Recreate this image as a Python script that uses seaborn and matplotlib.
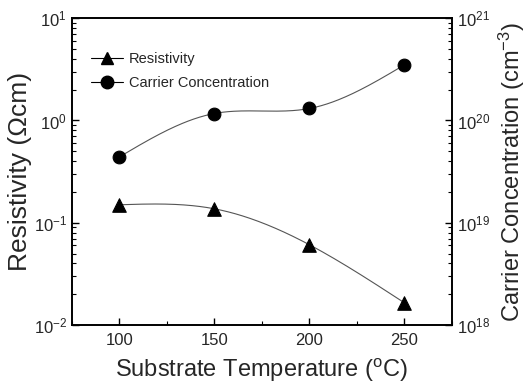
import numpy as np
import pandas as pd
import matplotlib
matplotlib.use("Agg")
import matplotlib.pyplot as plt
import seaborn as sns
from matplotlib.lines import Line2D
from matplotlib.ticker import LogLocator, MultipleLocator

temperature = [100, 150, 200, 250]
resistivity = [0.15, 0.137, 0.061, 0.0165]
carrier_conc = [4.4e19, 1.17e20, 1.31e20, 3.5e20]

sns.set_theme(style="ticks")
plt.rcParams["font.family"] = ["Liberation Sans", "DejaVu Sans"]
plt.rcParams["mathtext.default"] = "regular"


def smooth_log(x, y, n=200):
    # natural cubic spline through points in log10 space (for drawing the connecting curve)
    x = np.asarray(x, float)
    ly = np.log10(np.asarray(y, float))
    k = len(x)
    h = np.diff(x)
    A = np.zeros((k, k))
    b = np.zeros(k)
    A[0, 0] = A[-1, -1] = 1
    for i in range(1, k - 1):
        A[i, i - 1] = h[i - 1]
        A[i, i] = 2 * (h[i - 1] + h[i])
        A[i, i + 1] = h[i]
        b[i] = 6 * ((ly[i + 1] - ly[i]) / h[i] - (ly[i] - ly[i - 1]) / h[i - 1])
    M = np.linalg.solve(A, b)
    xs = np.linspace(x[0], x[-1], n)
    ys = np.empty_like(xs)
    for j, xv in enumerate(xs):
        i = min(np.searchsorted(x, xv, side="right") - 1, k - 2)
        t0, t1 = x[i], x[i + 1]
        hi = t1 - t0
        ys[j] = (M[i] * (t1 - xv) ** 3 / (6 * hi) + M[i + 1] * (xv - t0) ** 3 / (6 * hi)
                 + (ly[i] / hi - M[i] * hi / 6) * (t1 - xv)
                 + (ly[i + 1] / hi - M[i + 1] * hi / 6) * (xv - t0))
    return xs, 10 ** ys


fig = plt.figure(figsize=(5.28, 3.87), dpi=100)
ax = fig.add_axes([0.136, 0.160, 0.720, 0.793])
ax2 = ax.twinx()

line_kw = dict(color="#555555", lw=0.8)

xs, ys = smooth_log(temperature, resistivity)
sns.lineplot(x=xs, y=ys, ax=ax, **line_kw)
sns.scatterplot(x=temperature, y=resistivity, ax=ax, marker="^", s=95,
                color="black", edgecolor="black", zorder=5)

xs2, ys2 = smooth_log(temperature, carrier_conc)
sns.lineplot(x=xs2, y=ys2, ax=ax2, **line_kw)
sns.scatterplot(x=temperature, y=carrier_conc, ax=ax2, marker="o", s=85,
                color="black", edgecolor="black", zorder=5)

ax.set_yscale("log")
ax2.set_yscale("log")
ax.set_ylim(1e-2, 1e1)
ax2.set_ylim(1e18, 1e21)
ax.set_xlim(75, 275)

ax.xaxis.set_major_locator(MultipleLocator(50))
ax.xaxis.set_minor_locator(MultipleLocator(25))
for a in (ax, ax2):
    a.yaxis.set_major_locator(LogLocator(base=10, numticks=10))
    a.yaxis.set_minor_locator(LogLocator(base=10, subs=np.arange(2, 10), numticks=10))

ax.tick_params(axis="both", which="both", direction="in", labelsize=12, color="black")
ax.tick_params(axis="both", which="major", length=5, width=1)
ax.tick_params(axis="both", which="minor", length=3, width=0.8)
ax.tick_params(axis="x", which="both", top=False, pad=6)
ax.tick_params(axis="y", which="both", right=False)
ax2.tick_params(axis="y", which="both", direction="in", labelsize=12, color="black")
ax2.tick_params(axis="y", which="major", length=5, width=1)
ax2.tick_params(axis="y", which="minor", length=3, width=0.8)

for a in (ax, ax2):
    for s in a.spines.values():
        s.set_linewidth(1.2)
        s.set_color("black")

ax.set_xlabel("Substrate Temperature ($^{o}$C)", fontsize=17, labelpad=6)
ax.set_ylabel("Resistivity (\u03a9cm)", fontsize=19, labelpad=1)
ax2.set_ylabel("Carrier Concentration (cm$^{-3}$)", fontsize=17, labelpad=5)

handles = [
    Line2D([], [], color="black", lw=0.8, marker="^", markersize=9),
    Line2D([], [], color="black", lw=0.8, marker="o", markersize=9),
]
ax.legend(handles, ["Resistivity", "Carrier Concentration"], loc="upper left",
          frameon=False, fontsize=10.5, bbox_to_anchor=(0.035, 0.91),
          handlelength=2.2, handletextpad=0.4, labelspacing=0.7, borderaxespad=0)

fig.savefig("out.png", dpi=100, facecolor="white")
